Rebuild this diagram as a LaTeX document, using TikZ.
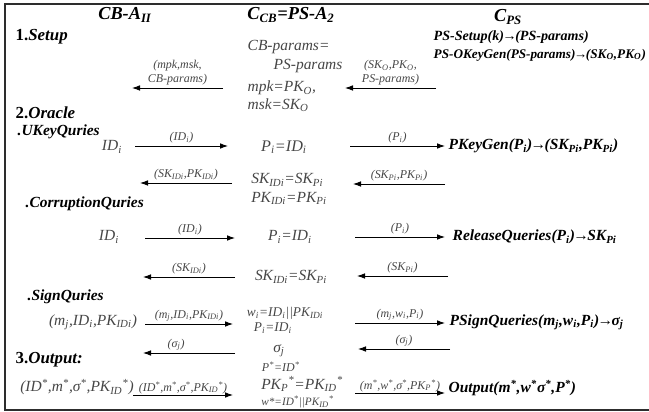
\documentclass[tikz,border=0pt]{standalone}
\usepackage{fontspec}
\setmainfont{Liberation Serif}
\usetikzlibrary{arrows.meta, positioning}
\definecolor{mytxt}{RGB}{70,70,70}
\definecolor{myframe}{RGB}{45,45,45}
\newcommand{\sbs}[1]{\textsubscript{#1}}
\newcommand{\sps}[1]{\textsuperscript{#1}}
\newcommand{\toarr}{\kern-0.1em→\kern-0.1em}
\tikzset{
  hdr/.style={font=\fontsize{13}{15}\selectfont\bfseries\itshape, inner sep=1pt},
  sec/.style={anchor=west, font=\fontsize{12}{14}\selectfont\bfseries, inner sep=1pt},
  subsec/.style={anchor=west, font=\fontsize{11}{13}\selectfont\bfseries\itshape, inner sep=1pt},
  txt/.style={font=\fontsize{11}{13}\selectfont\itshape, text=mytxt, inner sep=1pt},
  smalltxt/.style={font=\fontsize{9.5}{11}\selectfont\itshape, text=mytxt, inner sep=0.5pt},
  lbl/.style={font=\fontsize{8.5}{10}\selectfont\itshape, text=mytxt, inner sep=1.5pt, align=center},
  proc/.style={anchor=west, font=\fontsize{11}{13}\selectfont\bfseries\itshape, inner sep=1pt},
  msg/.style={-{Latex[length=2mm,width=1.4mm]}, line width=0.6pt, color=black},
  frame/.style={line width=1pt, color=myframe}
}
\begin{document}
\begin{tikzpicture}[x=0.025cm, y=-0.025cm]
  \useasboundingbox (0,0) rectangle (649,412);
  \draw [frame] (649,4) -- (5,4) -- (5,410) -- (649,410);

  % column heads
  \node [hdr] (adv) at (125,15) {CB-A\sbs{II}};
  \node [hdr] (chcb) at (291,15) {C\sbs{CB}=PS-A\sbs{2}};
  \node [hdr] (chps) at (508,17) {C\sbs{PS}};

  % phases
  \node [sec] (setup) at (14,37) {1.\textit{Setup}};
  \node [sec] (oracle) at (14,113) {2.\textit{Oracle}};
  \node [sec] (output) at (14,360) {3.\textit{Output:}};
  \node [subsec] (ukq) at (16,132) {.UKeyQuries};
  \node [subsec] (crq) at (24,204) {.CorruptionQuries};
  \node [subsec] (sgq) at (26,297) {.SignQuries};

  % setup
  \node [proc, font=\fontsize{10}{12}\selectfont\bfseries\itshape] (pssetup) at (432,37) {PS-Setup(k)\toarr(PS-params)};
  \node [proc, font=\fontsize{9.4}{11}\selectfont\bfseries\itshape] (pskgen) at (432,55) {PS-OKeyGen(PS-params)\toarr(SK\sbs{O},PK\sbs{O})};
  \node [txt, anchor=west] (cbp) at (246,47) {CB-params=};
  \node [txt, anchor=west] (psp) at (272,66) {PS-params};
  \node [txt, anchor=west] (mpk) at (246,88) {mpk=PK\sbs{O},};
  \node [txt, anchor=west] (msk) at (246,105) {msk=SK\sbs{O}};
  \coordinate (s1r) at (223,88); \coordinate (s1l) at (132,88);
  \coordinate (s2r) at (436,88); \coordinate (s2l) at (345,88);
  \draw [msg] (s2r) -- node [lbl, above] {(SK\sbs{O},PK\sbs{O},\\PS-params)} (s2l);
  \draw [msg] (s1r) -- node [lbl, above] {(mpk,msk,\\CB-params)} (s1l);

  % user key queries
  \node [txt] (uid) at (112,147) {ID\sbs{i}};
  \node [txt, font=\fontsize{11.5}{13}\selectfont\itshape] (upi) at (284,147) {P\sbs{i}=ID\sbs{i}};
  \node [proc] (pkgen) at (447,146) {PKeyGen(P\sbs{i})\toarr(SK\sbs{Pi},PK\sbs{Pi})};
  \node [txt, align=left] (ukey) at (289,189) {SK\sbs{IDi}=SK\sbs{Pi}\\PK\sbs{IDi}=PK\sbs{Pi}};
  \coordinate (u1l) at (135,146); \coordinate (u1r) at (228,146);
  \coordinate (u2l) at (350,146); \coordinate (u2r) at (445,146);
  \coordinate (u3r) at (232,183); \coordinate (u3l) at (140,183);
  \coordinate (u4r) at (445,184); \coordinate (u4l) at (353,184);
  \draw [msg] (u1l) -- node [lbl, above] {(ID\sbs{i})} (u1r);
  \draw [msg] (u2l) -- node [lbl, above] {(P\sbs{i})} (u2r);
  \draw [msg] (u4r) -- node [lbl, above] {(SK\sbs{Pi},PK\sbs{Pi})} (u4l);
  \draw [msg] (u3r) -- node [lbl, above] {(SK\sbs{IDi},PK\sbs{IDi})} (u3l);

  % corruption queries
  \node [txt] (cid) at (109,237) {ID\sbs{i}};
  \node [txt] (cpi) at (290,237) {P\sbs{i}=ID\sbs{i}};
  \node [proc] (relq) at (451,237) {ReleaseQueries(P\sbs{i})\toarr SK\sbs{Pi}};
  \node [txt] (csk) at (291,277) {SK\sbs{IDi}=SK\sbs{Pi}};
  \coordinate (c1l) at (145,238); \coordinate (c1r) at (235,238);
  \coordinate (c2l) at (355,237); \coordinate (c2r) at (445,237);
  \coordinate (c3r) at (235,277); \coordinate (c3l) at (143,277);
  \coordinate (c4r) at (448,276); \coordinate (c4l) at (357,276);
  \draw [msg] (c1l) -- node [lbl, above] {(ID\sbs{i})} (c1r);
  \draw [msg] (c2l) -- node [lbl, above] {(P\sbs{i})} (c2r);
  \draw [msg] (c4r) -- node [lbl, above] {(SK\sbs{Pi})} (c4l);
  \draw [msg] (c3r) -- node [lbl, above] {(SK\sbs{IDi})} (c3l);

  % sign queries
  \node [txt] (smsg) at (93,322) {(m\sbs{j},ID\sbs{i},PK\sbs{IDi})};
  \node [smalltxt, anchor=west] (swi) at (246,313) {w\sbs{i}=ID\sbs{i}||PK\sbs{IDi}};
  \node [smalltxt, anchor=west] (spi) at (253,328) {P\sbs{i}=ID\sbs{i}};
  \node [proc] (psign) at (448,322) {PSignQueries(m\sbs{j},w\sbs{i},P\sbs{i})\toarr σ\sbs{j}};
  \node [txt] (ssig) at (279,351) {σ\sbs{j}};
  \coordinate (g1l) at (145,324); \coordinate (g1r) at (233,324);
  \coordinate (g2l) at (355,323); \coordinate (g2r) at (445,323);
  \coordinate (g3r) at (235,353); \coordinate (g3l) at (143,353);
  \coordinate (g4r) at (450,349); \coordinate (g4l) at (358,349);
  \draw [msg] (g1l) -- node [lbl, above] {(m\sbs{j},ID\sbs{i},PK\sbs{IDi})} (g1r);
  \draw [msg] (g2l) -- node [lbl, above] {(m\sbs{j},w\sbs{i},P\sbs{i})} (g2r);
  \draw [msg] (g4r) -- node [lbl, above] {(σ\sbs{j})} (g4l);
  \draw [msg] (g3r) -- node [lbl, above, pos=0.64] {(σ\sbs{j})} (g3l);

  % output
  \node [txt] (ofor) at (77,387) {(ID\sps{*},m\sps{*},σ\sps{*},PK\sbs{ID}\sps{*})};
  \node [smalltxt, anchor=west, font=\fontsize{8.5}{10}\selectfont\itshape] (opid) at (261,367) {P\sps{*}=ID\sps{*}};
  \node [txt, anchor=west, inner sep=0pt] (opk) at (261,384) {PK\sbs{P}\sps{*}=PK\sbs{ID}\sps{*}};
  \node [smalltxt, anchor=west, inner sep=0pt, font=\fontsize{8}{10}\selectfont\itshape] (ow) at (261,402) {w*=ID\sps{*}||PK\sbs{ID}\sps{*}};
  \node [proc] (oout) at (447,388) {Output(m\sps{*},w\sps{*}σ\sps{*},P\sps{*})};
  \coordinate (o1l) at (133,395); \coordinate (o1r) at (233,395);
  \coordinate (o2l) at (355,393); \coordinate (o2r) at (445,393);
  \draw [msg] (o1l) -- node [lbl, above, inner sep=0.5pt] {(ID\sps{*},m\sps{*},σ\sps{*},PK\sbs{ID}\sps{*})} (o1r);
  \draw [msg] (o2l) -- node [lbl, above, inner sep=0.5pt] {(m\sps{*},w\sps{*},σ\sps{*},PK\sbs{P}\sps{*})} (o2r);
\end{tikzpicture}
\end{document}
